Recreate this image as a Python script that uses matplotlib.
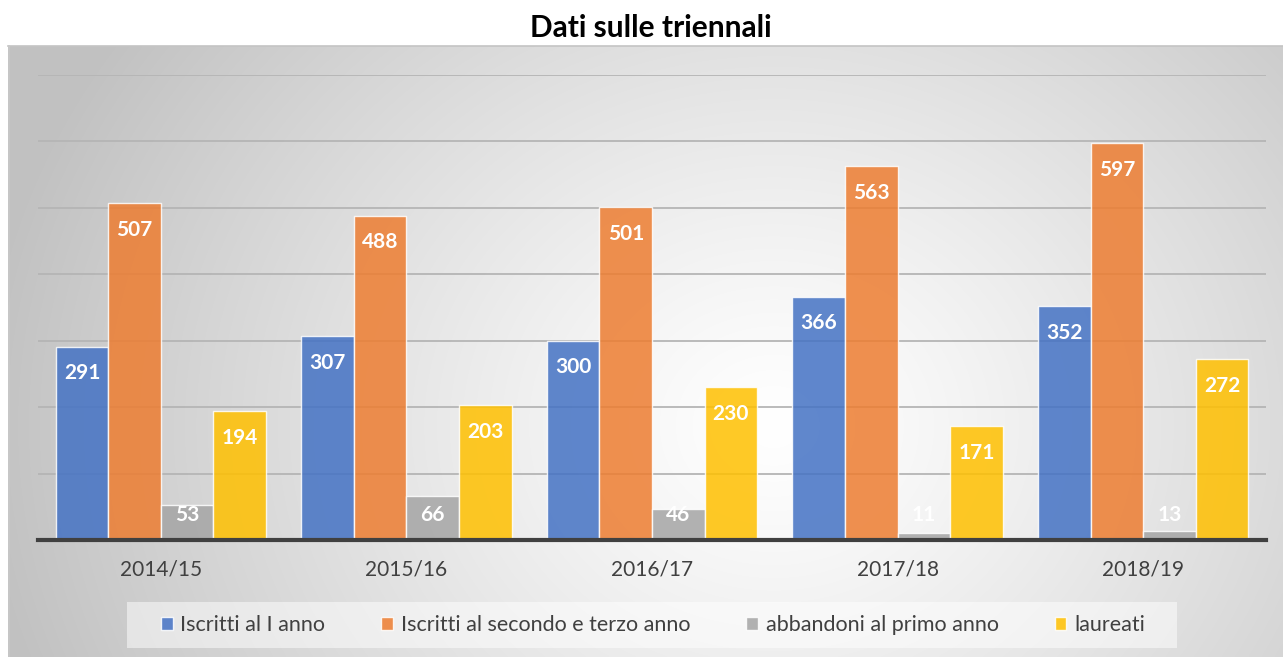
import numpy as np
import matplotlib
matplotlib.use("Agg")
import matplotlib.pyplot as plt
from matplotlib.patches import Rectangle

plt.rcParams['font.family'] = ['Lato', 'DejaVu Sans']

anni = ["2014/15", "2015/16", "2016/17", "2017/18", "2018/19"]
iscritti_primo = [291, 307, 300, 366, 352]
iscritti_secondo_terzo = [507, 488, 501, 563, 597]
abbandoni = [53, 66, 46, 11, 13]
laureati = [194, 203, 230, 171, 272]

serie = [
    ("Iscritti al I anno", iscritti_primo, "#4472C4"),
    ("Iscritti al secondo e terzo anno", iscritti_secondo_terzo, "#ED7D31"),
    ("abbandoni al primo anno", abbandoni, "#A5A5A5"),
    ("laureati", laureati, "#FFC000"),
]

W, H = 1283, 657
fig = plt.figure(figsize=(W / 100, H / 100), dpi=100)

# chart area background: radial grey -> white gradient
bg = fig.add_axes([8 / W, 0, 1 - 8 / W, 1 - 46 / H], zorder=-10)
yy, xx = np.mgrid[0:300, 0:600]
cx, cy = 0.6 * 600, 0.62 * 300
r = np.sqrt(((xx - cx) / 600) ** 2 + ((yy - cy) / 300 * 0.55) ** 2)
g = 1.0 - 0.24 * np.clip(r / 0.62, 0, 1) ** 1.2
img = np.dstack([g, g, g])
bg.imshow(img, aspect="auto", extent=[0, 1, 0, 1], interpolation="bilinear")
bg.set_xlim(0, 1)
bg.set_ylim(0, 1)
bg.axis("off")
fig.add_artist(plt.Line2D([8 / W, 1], [1 - 46 / H, 1 - 46 / H], color="#c4c4c4", lw=1.2))
fig.add_artist(plt.Line2D([8.5 / W, 8.5 / W], [0, 1 - 46 / H], color="#c8c8c8", lw=1.2))

ax = fig.add_axes([38 / W, 1 - 540 / H, (1266 - 38) / W, (540 - 75) / H])
ax.patch.set_alpha(0)

x = np.arange(len(anni))
bw = 0.214
for i, (nome, vals, col) in enumerate(serie):
    pos = x + (i - 1.5) * bw
    ax.bar(pos, vals, width=bw, color=col, alpha=0.85, edgecolor=(1, 1, 1, 0.6),
           linewidth=1.0, label=nome, zorder=3)
    for p, v in zip(pos, vals):
        ax.text(p, max(v - 40, 38), str(v), ha="center", va="center", color="white",
                fontsize=15, fontweight="bold", zorder=5)

ax.set_ylim(0, 700)
ax.set_xlim(-0.5, len(anni) - 0.5)
ax.set_yticks(np.arange(100, 701, 100))
ax.yaxis.grid(True, color="#b5b5b5", lw=1.3, zorder=0)
ax.tick_params(axis="y", left=False, labelleft=False)
ax.set_xticks(x)
ax.set_xticklabels(anni, fontsize=15, color="#404040")
ax.tick_params(axis="x", length=0, pad=14)
for s in ["top", "right", "left"]:
    ax.spines[s].set_visible(False)
ax.spines["bottom"].set_color("#404040")
ax.spines["bottom"].set_linewidth(3)
ax.spines["bottom"].set_zorder(6)

# legend box
fig.add_artist(Rectangle((127 / W, 1 - 648 / H), (1177 - 127) / W, 46 / H,
                         transform=fig.transFigure, facecolor=(1, 1, 1, 0.5),
                         edgecolor="none", zorder=1))
leg = fig.legend(loc="center", bbox_to_anchor=(653 / W, 1 - 625 / H), ncol=4, fontsize=15.5,
                 frameon=False, handlelength=0.55, handleheight=0.55,
                 handletextpad=0.35, columnspacing=2.6)
for t in leg.get_texts():
    t.set_color("#404040")

fig.text(651 / W, 1 - 28 / H, "Dati sulle triennali", ha="center", va="center",
         fontsize=21.5, fontweight="bold", color="black")

fig.savefig("out.png", dpi=100)
